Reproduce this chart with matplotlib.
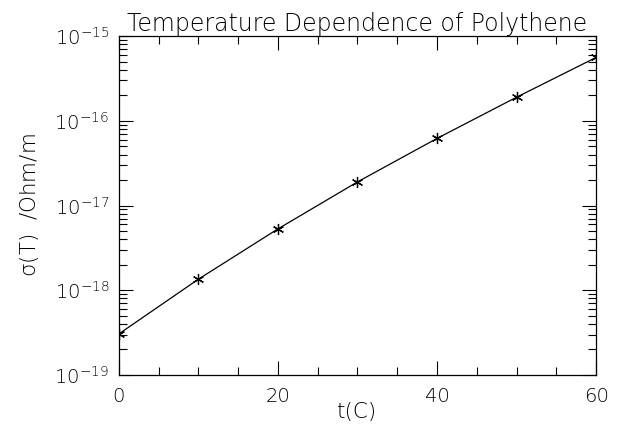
import numpy as np
import matplotlib
matplotlib.use("Agg")
import matplotlib.pyplot as plt
from matplotlib.ticker import LogLocator, MultipleLocator, FuncFormatter, NullFormatter

# data
temperature = [0, 10, 20, 30, 40, 50, 60]
conductivity = [3.05e-19, 1.35e-18, 5.3e-18, 1.9e-17, 6.2e-17, 1.9e-16, 5.6e-16]

x_ticks = [0, 20, 40, 60]
y_ticks = [1e-19, 1e-18, 1e-17, 1e-16, 1e-15]

# thin strokes, closer to the plotter font of the original
plt.rcParams["font.family"] = ["DejaVu Sans"]
plt.rcParams["font.weight"] = "light"
plt.rcParams["axes.titleweight"] = "light"
plt.rcParams["axes.labelweight"] = "light"
plt.rcParams["mathtext.fontset"] = "custom"
plt.rcParams["mathtext.rm"] = "DejaVu Sans:light"
plt.rcParams["mathtext.it"] = "DejaVu Sans:light"

fig = plt.figure(figsize=(6.19, 4.30), dpi=100)
ax = fig.add_axes([0.192, 0.128, 0.771, 0.788])

ax.plot(
    temperature,
    conductivity,
    color="black",
    linewidth=0.9,
    marker=(6, 2, 0),
    markersize=8,
    markeredgewidth=0.9,
)

ax.set_yscale("log")
ax.set_xlim(0, 60)
ax.set_ylim(1e-19, 1e-15)

ax.set_xticks(x_ticks)
ax.xaxis.set_minor_locator(MultipleLocator(5))
ax.set_yticks(y_ticks)
ax.yaxis.set_minor_locator(LogLocator(base=10, subs=np.arange(2, 10)))
ax.yaxis.set_minor_formatter(NullFormatter())
ax.yaxis.set_major_formatter(
    FuncFormatter(lambda v, pos: r"$\mathregular{10^{%d}}$" % round(np.log10(v)))
)

ax.tick_params(
    which="both", direction="in", top=True, right=True, colors="black", width=0.8
)
ax.tick_params(which="major", length=10, labelsize=14)
ax.tick_params(axis="x", which="major", pad=9)
ax.tick_params(axis="y", which="major", pad=7)
ax.tick_params(which="minor", length=6)

for spine in ax.spines.values():
    spine.set_linewidth(0.9)

ax.set_title("Temperature Dependence of Polythene", fontsize=17, pad=3)
ax.set_xlabel("t(C)", fontsize=15.5, labelpad=-3)
ax.set_ylabel(r"$\sigma$(T)  /Ohm/m", fontsize=15.5, labelpad=10)

fig.savefig("out.png", dpi=100)
